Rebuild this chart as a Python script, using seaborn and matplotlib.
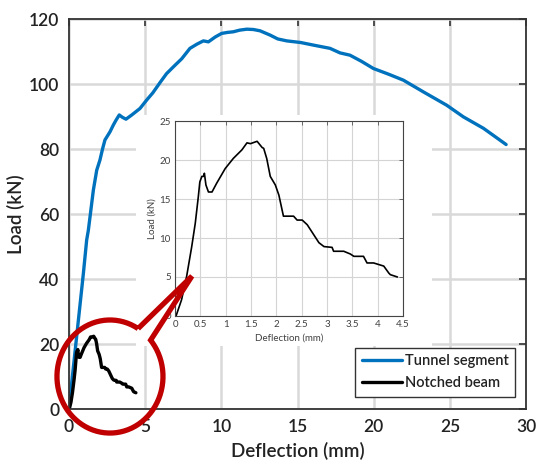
import numpy as np
import pandas as pd
import matplotlib
matplotlib.use("Agg")
import matplotlib.pyplot as plt
import seaborn as sns
from matplotlib.path import Path
from matplotlib.patches import PathPatch, Rectangle

# Load-deflection record of the tunnel segment test
tunnel_defl = [0, 0.2, 0.45, 0.7, 0.95, 1.16, 1.27, 1.43, 1.60, 1.82, 2.03, 2.2, 2.36, 2.69,
               2.91, 3.1, 3.30, 3.5, 3.74, 4.12, 4.66, 5.1, 5.5, 5.98, 6.4, 6.85, 7.4,
               7.94, 8.4, 8.82, 9.15, 9.6, 10.02, 10.4, 10.79, 11.2, 11.67, 12.1, 12.54,
               13.19, 13.7, 14.29, 15.2, 16.04, 17.13, 17.79, 18.44, 19.2, 19.98, 21.0,
               21.95, 23.26, 24.79, 25.89, 27.2, 28.69]
tunnel_load = [0, 9, 20, 31, 42, 52, 55, 61, 67.4, 73.5, 76.6, 80, 82.8, 85.3,
               87.4, 89, 90.5, 89.8, 89.2, 90.5, 92.5, 95.1, 97.3, 100.5, 103.2, 105.3, 107.8,
               111, 112.3, 113.3, 113, 114.5, 115.6, 115.9, 116.1, 116.6, 116.9, 116.8, 116.4,
               115.1, 113.9, 113.3, 112.8, 112, 111, 109.6, 108.9, 107, 104.8, 103,
               101.2, 97.6, 93.5, 89.9, 86.4, 81.4]

# Load-deflection record of the notched beam test
beam_defl = [0.02, 0.13, 0.23, 0.33, 0.40, 0.46, 0.49, 0.53, 0.56, 0.58, 0.61, 0.66, 0.73,
             0.82, 0.99, 1.15, 1.32, 1.42, 1.49, 1.62, 1.72, 1.75, 1.81, 1.88, 1.98, 2.05,
             2.10, 2.14, 2.34, 2.41, 2.51, 2.61, 2.74, 2.84, 2.94, 3.10, 3.13, 3.33, 3.46,
             3.53, 3.72, 3.79, 3.92, 4.12, 4.22, 4.25, 4.39]
beam_load = [0, 2.1, 5.1, 8.9, 11.9, 15.3, 17.2, 17.9, 17.9, 18.3, 16.8, 15.9, 15.9,
             17.0, 18.9, 20.2, 21.3, 22.2, 22.1, 22.4, 21.6, 21.5, 20.2, 17.9, 16.8, 15.5,
             14.0, 12.8, 12.8, 12.3, 12.3, 11.7, 10.4, 9.4, 8.9, 8.8, 8.3, 8.3, 7.95,
             7.65, 7.65, 6.8, 6.8, 6.4, 5.5, 5.3, 5.0]

main_xticks = [0, 5, 10, 15, 20, 25, 30]
main_yticks = [0, 20, 40, 60, 80, 100, 120]
inset_xticks = [0, 0.5, 1, 1.5, 2, 2.5, 3, 3.5, 4, 4.5]
inset_yticks = [0, 5, 10, 15, 20, 25]

tunnel = pd.DataFrame({"Deflection": tunnel_defl, "Load": tunnel_load})
beam = pd.DataFrame({"Deflection": beam_defl, "Load": beam_load})

sns.set_style("white")
plt.rcParams["font.family"] = ["Lato", "DejaVu Sans"]

BLUE = "#0072BD"
TEXT = "#222222"
W = "semibold"

fig = plt.figure(figsize=(5.39, 4.66), dpi=100)
ax = fig.add_axes([0.128, 0.1223, 0.848, 0.8367])

sns.lineplot(data=tunnel, x="Deflection", y="Load", sort=False, estimator=None,
             color=BLUE, lw=2.4, label="Tunnel segment", ax=ax)
sns.lineplot(data=beam, x="Deflection", y="Load", sort=False, estimator=None,
             color="black", lw=2.4, label="Notched beam", ax=ax)

ax.set_xlim(0, 30)
ax.set_ylim(0, 120)
ax.set_xticks(main_xticks)
ax.set_yticks(main_yticks)
ax.grid(True, color="#d9d9d9", lw=1.8)
ax.set_axisbelow(True)
ax.tick_params(direction="in", top=True, right=True, length=5, width=1.2,
               labelsize=12.5, colors="#333333", labelcolor=TEXT, pad=7)
for lab in ax.get_xticklabels() + ax.get_yticklabels():
    lab.set_fontweight(W)
for s in ax.spines.values():
    s.set_color("#333333")
    s.set_linewidth(1.3)
ax.set_xlabel("Deflection (mm)", fontsize=13.5, color=TEXT, labelpad=5, fontweight=W)
ax.set_ylabel("Load (kN)", fontsize=13.5, color=TEXT, labelpad=3, fontweight=W)

leg = ax.legend(loc="lower right", bbox_to_anchor=(0.976, 0.031), borderaxespad=0,
                fontsize=10.5, frameon=True, fancybox=False, framealpha=1,
                handlelength=2.75, handletextpad=0.2, borderpad=0.45, labelspacing=0.55)
leg.get_frame().set_edgecolor("#333333")
leg.get_frame().set_linewidth(1.0)
for t in leg.get_texts():
    t.set_color(TEXT)
    t.set_fontweight(W)

# White backing behind the zoomed-in view
fig.add_artist(Rectangle((0.2523, 0.2575), 0.549, 0.4957, transform=fig.transFigure,
                         facecolor="white", edgecolor="none", zorder=2))

ins = fig.add_axes([0.3247, 0.3219, 0.423, 0.4184], zorder=3)
sns.lineplot(data=beam, x="Deflection", y="Load", sort=False, estimator=None,
             color="black", lw=1.2, ax=ins)
ins.set_xlim(0, 4.5)
ins.set_ylim(0, 25)
ins.set_xticks(inset_xticks)
ins.set_xticklabels([f"{v:g}" for v in inset_xticks])
ins.set_yticks(inset_yticks)
ins.grid(True, color="#d4d4d4", lw=0.8)
ins.set_axisbelow(True)
ins.tick_params(direction="in", top=True, right=True, length=3, width=0.6,
                labelsize=7, colors="#555555", labelcolor="#404040", pad=3)
for s in ins.spines.values():
    s.set_color("#444444")
    s.set_linewidth(0.8)
ins.set_xlabel("Deflection (mm)", fontsize=7, color="#404040", labelpad=3)
ins.set_ylabel("Load (kN)", fontsize=7, color="#404040", labelpad=2)

# Red callout ring with pointer toward the zoomed view
cx, cy, rx, ry = 2.69, 10.0, 3.48, 17.4
tip = (8.07, 40.9)
ang = np.radians(np.linspace(58, 400, 240))
verts = list(zip(cx + rx * np.cos(ang), cy + ry * np.sin(ang)))
verts.append(tip)
verts.append(verts[0])
codes = [Path.MOVETO] + [Path.LINETO] * (len(verts) - 1)
callout = PathPatch(Path(verts, codes), transform=ax.transData, fill=False,
                    edgecolor="#C00000", lw=3.8, joinstyle="miter", zorder=4)
fig.add_artist(callout)

fig.savefig("out.png", dpi=100)
